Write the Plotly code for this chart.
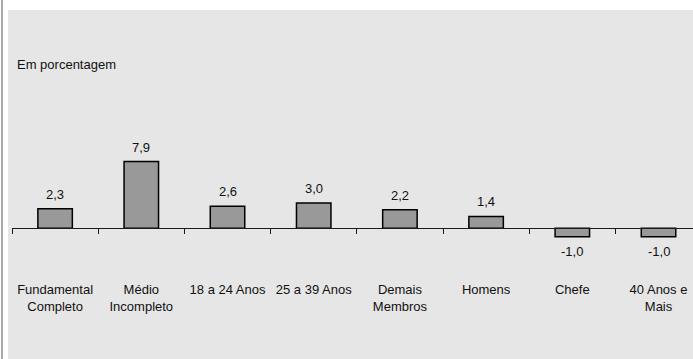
import plotly.graph_objects as go

# Variação por grupo (em pontos percentuais)
categories = [
    "Fundamental<br>Completo",
    "Médio<br>Incompleto",
    "18 a 24 Anos",
    "25 a 39 Anos",
    "Demais<br>Membros",
    "Homens",
    "Chefe",
    "40 Anos e<br>Mais",
]
values = [2.3, 7.9, 2.6, 3.0, 2.2, 1.4, -1.0, -1.0]
unit_label = "Em porcentagem"

W, H = 693, 359
M_L, M_T = 12, 10
PLOT_W, PLOT_H = W - M_L, H - M_T
Y_MIN, Y_MAX = -15.47, 25.83
FONT = "Liberation Sans, Arial, sans-serif"
TEXT_COLOR = "#111111"
BG = "#e6e6e6"


def fmt(v):
    return f"{v:.1f}".replace(".", ",")


fig = go.Figure(
    go.Bar(
        x=categories,
        y=values,
        marker=dict(color="#999999", line=dict(color="#000000", width=1.5)),
        hoverinfo="skip",
    )
)

annotations = []
for cat, v in zip(categories, values):
    annotations.append(
        dict(
            x=cat,
            y=v,
            xref="x",
            yref="y",
            text=fmt(v),
            showarrow=False,
            yanchor="bottom" if v >= 0 else "top",
            yshift=5 if v >= 0 else -5,
            font=dict(family=FONT, size=13, color=TEXT_COLOR),
        )
    )

shapes = [
    # gray panel strip left of the axis start
    dict(type="rect", xref="paper", yref="paper",
         x0=-4 / PLOT_W, x1=0, y0=0, y1=1,
         fillcolor=BG, line=dict(width=0), layer="below"),
    # left frame bar
    dict(type="rect", xref="paper", yref="paper",
         x0=-11 / PLOT_W, x1=-9 / PLOT_W, y0=0, y1=1 + M_T / PLOT_H,
         fillcolor="#a9a9a9", line=dict(width=0), layer="below"),
]

fig.update_layout(
    width=W,
    height=H,
    margin=dict(l=M_L, r=0, t=M_T, b=0, pad=0),
    paper_bgcolor="#ffffff",
    plot_bgcolor=BG,
    bargap=0.6,
    showlegend=False,
    font=dict(family=FONT, size=13, color=TEXT_COLOR),
    title=dict(
        text=unit_label,
        x=17 / W, xanchor="left", xref="container",
        y=1 - 64.5 / H, yanchor="middle", yref="container",
        font=dict(family=FONT, size=13, color=TEXT_COLOR),
    ),
    annotations=annotations,
    shapes=shapes,
    xaxis=dict(
        type="category",
        range=[-0.5, 7.4],
        anchor="free",
        position=-Y_MIN / (Y_MAX - Y_MIN),
        showline=True,
        linecolor="#1a1a1a",
        linewidth=1,
        ticks="outside",
        tickson="boundaries",
        ticklen=5,
        tickwidth=1,
        tickcolor="#1a1a1a",
        showgrid=False,
        ticklabelstandoff=49,
        tickfont=dict(family=FONT, size=13, color=TEXT_COLOR),
        fixedrange=True,
    ),
    yaxis=dict(
        range=[Y_MIN, Y_MAX],
        visible=False,
        showgrid=False,
        zeroline=False,
        fixedrange=True,
    ),
)

fig.write_html("out.html", config={"displayModeBar": False})
